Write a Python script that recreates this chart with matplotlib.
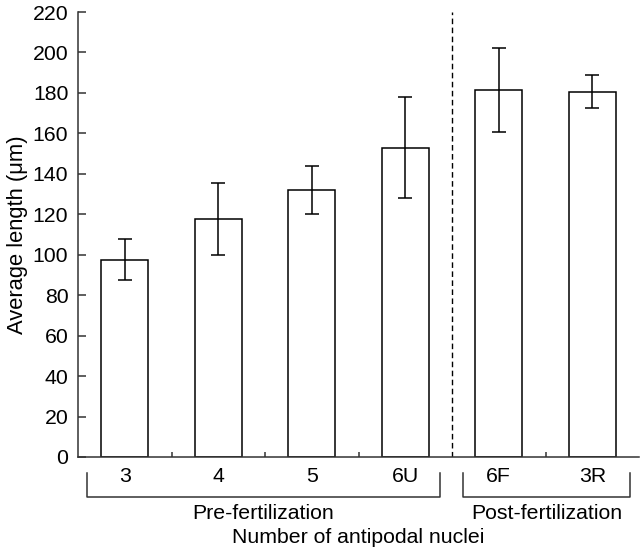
import matplotlib
matplotlib.use("Agg")
import matplotlib.pyplot as plt
import matplotlib.transforms as mtransforms

plt.rcParams['font.family'] = ['Liberation Sans', 'DejaVu Sans']

# data
categories = ['3', '4', '5', '6U', '6F', '3R']
means = [97.5, 117.8, 132.0, 153.0, 181.6, 180.6]
errors = [10.2, 17.8, 12.1, 25.0, 20.8, 8.2]
groups = ['Pre-fertilization', 'Post-fertilization']
y_ticks = [0, 20, 40, 60, 80, 100, 120, 140, 160, 180, 200, 220]

fs = 15.3

fig = plt.figure(figsize=(6.4, 5.53), dpi=100)
ax = fig.add_axes([78 / 640, 1 - 457 / 553, 561 / 640, 445 / 553])

x = list(range(len(categories)))
ax.bar(x, means, width=0.5, color='white', edgecolor='black', linewidth=1.1, zorder=2)
ax.errorbar(x, means, yerr=errors, fmt='none', ecolor='black', elinewidth=1.1,
            capsize=4.7, capthick=1.1, zorder=3)

# divider between pre and post fertilization
ax.axvline(3.5, color='black', linestyle=(0, (4, 2.5)), linewidth=1.0, zorder=1)

ax.set_xlim(-0.5, 5.5)
ax.set_ylim(0, 220)
ax.set_yticks(y_ticks)
ax.set_xticks(x)
ax.set_xticklabels(categories)
ax.set_xticks([0.5, 1.5, 2.5, 4.5], minor=True)

for s in ['top', 'right']:
    ax.spines[s].set_visible(False)
for s in ['left', 'bottom']:
    ax.spines[s].set_linewidth(1.1)
    ax.spines[s].set_color('#333333')

ax.tick_params(axis='y', direction='in', length=5.5, width=1.1, pad=7, labelsize=fs, color='#333333')
ax.tick_params(axis='x', which='major', length=0, pad=7, labelsize=fs)
ax.tick_params(axis='x', which='minor', direction='in', length=3.5, width=1.1, color='#333333')

ax.set_ylabel('Average length (μm)', fontsize=15.8, labelpad=3)

# group brackets below the axis
trans = mtransforms.blended_transform_factory(ax.transData, ax.transAxes)
brackets = [(-0.40, 3.37), (3.62, 5.40)]
y0, y1 = -0.035, -0.089
for (a, b), name in zip(brackets, groups):
    ax.plot([a, a, b, b], [y0, y1, y1, y0], color='#333333', linewidth=1.1,
            transform=trans, clip_on=False)
    ax.text((a + b) / 2, -0.126, name, transform=trans, ha='center', va='center',
            fontsize=fs)

ax.text(0.5, -0.182, 'Number of antipodal nuclei', transform=ax.transAxes,
        ha='center', va='center', fontsize=fs)

fig.savefig('out.png', dpi=100)
